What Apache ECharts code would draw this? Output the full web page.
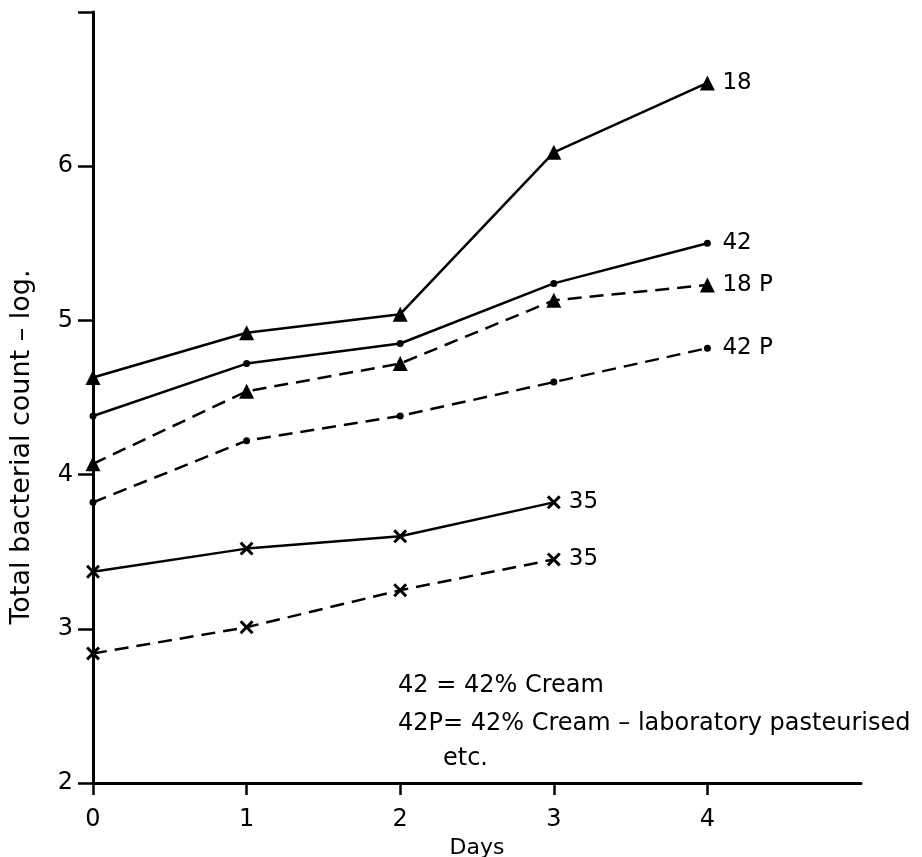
<!DOCTYPE html>
<html>
<head>
<meta charset="utf-8">
<script src="https://cdn.jsdelivr.net/npm/echarts@6/dist/echarts.min.js"></script>
<style>html,body{margin:0;padding:0;background:#fff}#c{width:922px;height:857px}</style>
</head>
<body>
<div id="c"></div>
<script>
const days = [0, 1, 2, 3, 4];
const s18  = [4.63, 4.92, 5.04, 6.09, 6.54];
const s42  = [4.38, 4.72, 4.85, 5.24, 5.50];
const s18P = [4.07, 4.54, 4.72, 5.13, 5.23];
const s42P = [3.82, 4.22, 4.38, 4.60, 4.82];
const s35  = [3.37, 3.52, 3.60, 3.82];
const s35P = [2.84, 3.01, 3.25, 3.45];
const xTicks = [0, 1, 2, 3, 4];
const yTicks = [2, 3, 4, 5, 6, 7];
const yLabels = [2, 3, 4, 5, 6];
const notes = ['42 = 42% Cream', '42P= 42% Cream \u2013 laboratory pasteurised', 'etc.'];

const FONT = 'DejaVu Sans';
const CROSS = 'path://M1.5,0 L5,3.5 L8.5,0 L10,1.5 L6.5,5 L10,8.5 L8.5,10 L5,6.5 L1.5,10 L0,8.5 L3.5,5 L0,1.5 Z';

function mk(name, vals, dashed, symbol, size) {
  return {
    name: name,
    type: 'line',
    data: vals.map((v, i) => [days[i], v]),
    symbol: symbol,
    symbolSize: size,
    showAllSymbol: true,
    lineStyle: { color: '#000', width: 2.5, type: dashed ? [14, 8] : 'solid' },
    itemStyle: { color: '#000' },
    endLabel: { show: true, formatter: name.replace(/#.*/, ''), color: '#000', fontFamily: FONT, fontSize: 23, distance: 15 },
    animation: false,
    z: 3
  };
}

const chart = echarts.init(document.getElementById('c'));
chart.setOption({
  backgroundColor: '#fff',
  animation: false,
  grid: { left: 93, right: 61, top: 12, bottom: 74, containLabel: false, outerBoundsMode: 'none' },
  xAxis: {
    type: 'value', min: 0, max: 5, interval: 1,
    name: 'Days', nameLocation: 'middle', nameGap: 52,
    nameTextStyle: { color: '#000', fontFamily: FONT, fontSize: 22 },
    axisLine: { lineStyle: { color: '#000', width: 3 } },
    axisTick: { show: true, length: 12, lineStyle: { color: '#000', width: 2.5 }, customValues: xTicks },
    axisLabel: { color: '#000', fontFamily: FONT, fontSize: 24, margin: 25, customValues: xTicks },
    splitLine: { show: false }
  },
  yAxis: {
    type: 'value', min: 2, max: 7, interval: 1,
    axisLine: { show: true, lineStyle: { color: '#000', width: 3 } },
    axisTick: { show: true, length: 15, lineStyle: { color: '#000', width: 2.5 }, customValues: yTicks },
    axisLabel: { color: '#000', fontFamily: FONT, fontSize: 24, margin: 20, customValues: yLabels },
    splitLine: { show: false }
  },
  graphic: [
    { type: 'text', x: 22, y: 447, rotation: Math.PI / 2,
      style: { text: 'Total bacterial count \u2013 log.', fill: '#000', font: '27px "' + FONT + '"', textAlign: 'center', textVerticalAlign: 'middle' } },
    { type: 'text', x: 398, y: 674, style: { text: notes[0], fill: '#000', font: '24px "' + FONT + '"' } },
    { type: 'text', x: 398, y: 712, style: { text: notes[1], fill: '#000', font: '24px "' + FONT + '"' } },
    { type: 'text', x: 443, y: 747, style: { text: notes[2], fill: '#000', font: '24px "' + FONT + '"' } }
  ],
  series: [
    mk('18', s18, false, 'triangle', 15),
    mk('42', s42, false, 'circle', 7),
    mk('18 P', s18P, true, 'triangle', 15),
    mk('42 P', s42P, true, 'circle', 7),
    mk('35', s35, false, CROSS, 14),
    mk('35#P', s35P, true, CROSS, 14)
  ]
});
</script>
</body>
</html>
